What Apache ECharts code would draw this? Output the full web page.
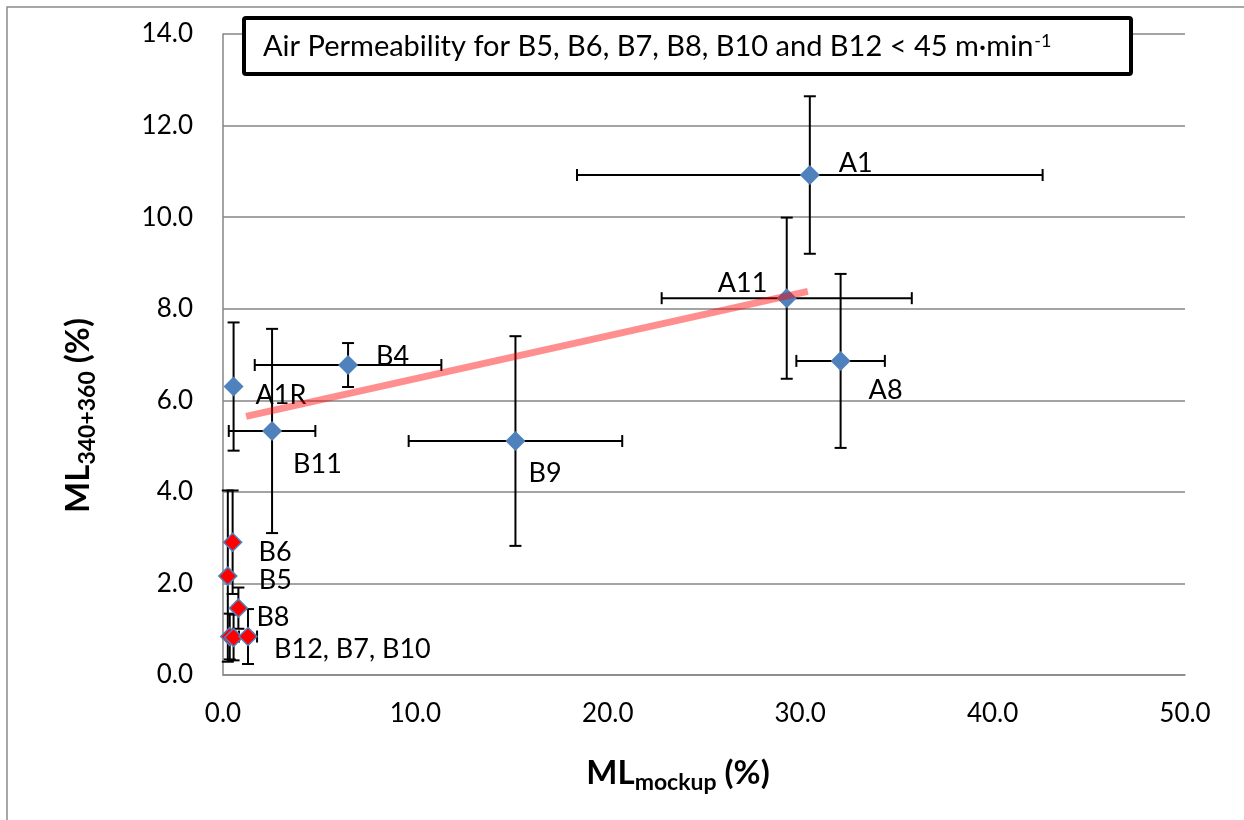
<!DOCTYPE html>
<html>
<head>
<meta charset="utf-8">
<script src="https://cdn.jsdelivr.net/npm/echarts@6/dist/echarts.min.js"></script>
<style>
  html, body { margin: 0; padding: 0; background: #fff; }
  #main { width: 1244px; height: 820px; }
</style>
</head>
<body>
<div id="main"></div>
<script>
// 蓝色点 (A / B 样品)
const blueNames = ['A1', 'A11', 'A8', 'B9', 'B4', 'A1R', 'B11'];
const blueX = [30.5, 29.3, 32.1, 15.2, 6.5, 0.55, 2.55];
const blueY = [10.92, 8.23, 6.86, 5.11, 6.77, 6.30, 5.33];
const blueXErr = [12.1, 6.5, 2.3, 5.55, 4.85, 0, 2.25];
const blueYErr = [1.72, 1.76, 1.9, 2.29, 0.48, 1.4, 2.23];

// 红色点 (透气率 < 45)
const redNames = ['B6', 'B5', 'B8', 'B12', 'B7', 'B10'];
const redLabels = ['B6', 'B5', 'B8', '', '', 'B12, B7, B10'];
const redX = [0.5, 0.25, 0.8, 0.35, 0.55, 1.3];
const redY = [2.9, 2.16, 1.46, 0.84, 0.82, 0.84];
const redXErr = [0, 0, 0, 0, 0, 0.47];
const redYErr = [1.13, 1.87, 0.45, 0.5, 0.5, 0.6];

// 趋势线端点
const trendX = [1.2, 30.4];
const trendY = [5.65, 8.38];

// 标签偏移 (像素, 相对于点中心)
const labelOffset = {
  'A1': [29, -12], 'A11': [-69, -15], 'A8': [28, 29], 'B9': [13, 32],
  'B4': [28, -9], 'A1R': [22, 9], 'B11': [21, 33],
  'B6': [26, 10], 'B5': [31, 4], 'B8': [18, 9], 'B12, B7, B10': [26, 13]
};

const FONT = 'Lato';
const chart = echarts.init(document.getElementById('main'));

function pointData(names, labels, xs, ys) {
  return names.map((n, i) => {
    const text = labels[i];
    return {
      name: text,
      value: [xs[i], ys[i]],
      label: { show: !!text, offset: labelOffset[text] || [0, 0] }
    };
  });
}

function errData(xs, ys, ex, ey) {
  return xs.map((x, i) => [x, ys[i], ex[i], ey[i]]);
}

function renderErrorBar(params, api) {
  const x = api.value(0), y = api.value(1), ex = api.value(2), ey = api.value(3);
  const st = { stroke: '#000', lineWidth: 2 };
  const cap = 6;
  const children = [];
  if (ex > 0) {
    const l = api.coord([x - ex, y]), r = api.coord([x + ex, y]);
    children.push({ type: 'line', shape: { x1: l[0], y1: l[1], x2: r[0], y2: r[1] }, style: st });
    children.push({ type: 'line', shape: { x1: l[0], y1: l[1] - cap, x2: l[0], y2: l[1] + cap }, style: st });
    children.push({ type: 'line', shape: { x1: r[0], y1: r[1] - cap, x2: r[0], y2: r[1] + cap }, style: st });
  }
  if (ey > 0) {
    const t = api.coord([x, y + ey]), b = api.coord([x, y - ey]);
    children.push({ type: 'line', shape: { x1: t[0], y1: t[1], x2: b[0], y2: b[1] }, style: st });
    children.push({ type: 'line', shape: { x1: t[0] - cap, y1: t[1], x2: t[0] + cap, y2: t[1] }, style: st });
    children.push({ type: 'line', shape: { x1: b[0] - cap, y1: b[1], x2: b[0] + cap, y2: b[1] }, style: st });
  }
  return { type: 'group', children: children };
}

const labelStyle = {
  position: 'inside',
  align: 'left',
  verticalAlign: 'middle',
  color: '#000',
  fontFamily: FONT,
  fontSize: 27,
  formatter: '{b}'
};

const nameRich = {
  b: { fontSize: 33, fontWeight: 'bold', fontFamily: FONT, color: '#000', lineHeight: 40 },
  s: { fontSize: 23, fontWeight: 'bold', fontFamily: FONT, color: '#000', verticalAlign: 'top', padding: [18, 0, 0, 0] }
};

chart.setOption({
  animation: false,
  textStyle: { fontFamily: FONT },
  grid: { left: 223, right: 59, top: 34, bottom: 145 },
  xAxis: {
    type: 'value',
    min: 0, max: 50, interval: 10,
    axisLine: { lineStyle: { color: '#868686', width: 1.5 } },
    axisTick: { show: false },
    splitLine: { show: false },
    axisLabel: { color: '#000', fontSize: 26, fontFamily: FONT, margin: 26, formatter: v => v.toFixed(1) },
    name: '{b|ML}{s|mockup}{b| (%)}',
    nameLocation: 'middle',
    nameGap: 78,
    nameTextStyle: { padding: [0, 52, 0, 0], rich: nameRich }
  },
  yAxis: {
    type: 'value',
    min: 0, max: 14, interval: 2,
    axisLine: { show: true, lineStyle: { color: '#868686', width: 1.5 } },
    axisTick: { show: false },
    splitLine: { lineStyle: { color: '#868686', width: 1.5 } },
    axisLabel: { color: '#000', fontSize: 26, fontFamily: FONT, margin: 30, formatter: v => v.toFixed(1) },
    name: '{b|ML}{s|340+360}{b| (%)}',
    nameLocation: 'middle',
    nameGap: 124,
    nameRotate: 90,
    nameTextStyle: { padding: [0, 122, 0, 0], rich: nameRich }
  },
  graphic: [
    {
      type: 'rect', silent: true, z: -10,
      shape: { x: 7, y: 7, width: 1400, height: 1000 },
      style: { fill: 'none', stroke: '#8a8a8a', lineWidth: 1.5 }
    },
    {
      type: 'rect', silent: true, z: 100,
      shape: { x: 244, y: 18, width: 887, height: 56, r: 2 },
      style: { fill: '#fff', stroke: '#000', lineWidth: 4 }
    },
    {
      type: 'text', silent: true, z: 101,
      x: 263, y: 47,
      style: {
        text: 'Air Permeability for B5, B6, B7, B8, B10 and B12 < 45 m·min{sup|-1}',
        fill: '#000',
        fontFamily: FONT,
        fontSize: 29,
        verticalAlign: 'middle',
        rich: {
          sup: { fontSize: 18, fontFamily: FONT, fill: '#000', verticalAlign: 'top', padding: [0, 0, 0, 1] }
        }
      }
    }
  ],
  series: [
    {
      type: 'custom',
      name: 'errBlue',
      z: 1,
      renderItem: renderErrorBar,
      encode: { x: 0, y: 1 },
      data: errData(blueX, blueY, blueXErr, blueYErr)
    },
    {
      type: 'custom',
      name: 'errRed',
      z: 1,
      renderItem: renderErrorBar,
      encode: { x: 0, y: 1 },
      data: errData(redX, redY, redXErr, redYErr)
    },
    {
      type: 'scatter',
      name: 'blue',
      z: 3,
      symbol: 'diamond',
      symbolSize: 20,
      itemStyle: { color: '#4f81bd', opacity: 1 },
      label: labelStyle,
      data: pointData(blueNames, blueNames, blueX, blueY)
    },
    {
      type: 'scatter',
      name: 'red',
      z: 3,
      symbol: 'diamond',
      symbolSize: 18,
      itemStyle: { color: '#ff0000', borderColor: '#4f81bd', borderWidth: 1.5, opacity: 1 },
      label: labelStyle,
      data: pointData(redNames, redLabels, redX, redY)
    },
    {
      type: 'line',
      name: 'trend',
      z: 5,
      symbol: 'none',
      silent: true,
      lineStyle: { color: 'rgba(255,0,0,0.44)', width: 7 },
      data: trendX.map((x, i) => [x, trendY[i]])
    }
  ]
});
</script>
</body>
</html>
